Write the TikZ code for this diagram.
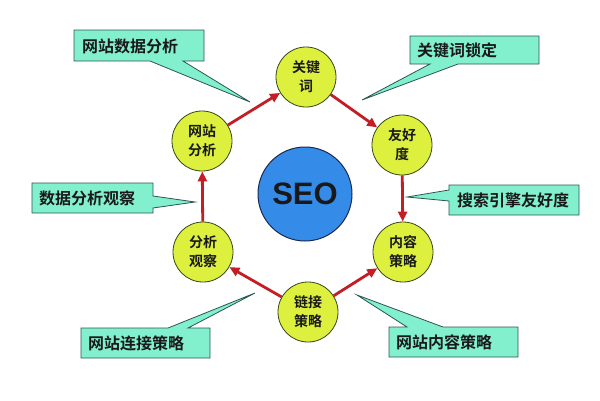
\documentclass[tikz,border=0pt]{standalone}
\usepackage{fontspec}
\setmainfont{Liberation Sans}
\newfontfamily\cjk{Noto Sans CJK SC Bold}
\usetikzlibrary{arrows.meta}
\definecolor{ballfill}{RGB}{221,240,62}
\definecolor{ballline}{RGB}{55,70,25}
\definecolor{seofill}{RGB}{52,140,232}
\definecolor{seoline}{RGB}{25,40,80}
\definecolor{callfill}{RGB}{130,240,205}
\definecolor{callline}{RGB}{45,85,85}
\definecolor{arrowred}{RGB}{195,30,38}
\definecolor{txt}{RGB}{25,25,25}
\tikzset{
  ball/.style={circle,draw=ballline,line width=0.8pt,fill=ballfill,minimum size=60pt,inner sep=0pt,
    align=center,font=\cjk\fontsize{14}{19}\selectfont,text=txt},
  seoball/.style={circle,draw=seoline,line width=1pt,fill=seofill,minimum size=94pt,inner sep=0pt,
    font=\bfseries\fontsize{31}{31}\selectfont,text=txt},
  callshape/.style={draw=callline,line width=0.8pt,fill=callfill,line join=miter},
  calltext/.style={anchor=west,inner sep=0pt,font=\cjk\fontsize{16}{16}\selectfont,text=txt},
  flow/.style={draw=arrowred,line width=2.8pt,-{Triangle[length=10pt,width=9pt]}},
}
\begin{document}
\begin{tikzpicture}[x=1pt,y=-1pt]
\useasboundingbox (0,0) rectangle (600,400);
\fill[white] (0,0) rectangle (600,400);

% callouts
\coordinate (t1) at (250,102);
\coordinate (t2) at (362,100);
\coordinate (t3) at (195,202);
\coordinate (t4) at (407,197);
\coordinate (t5) at (357,295);
\coordinate (t6) at (255,293);
\path[callshape] (74,30) -- (204,30) -- (204,61) -- (183,61) -- (t1) -- (150,61) -- (74,61) -- cycle;
\path[callshape] (410,36) -- (539,36) -- (539,64) -- (458,64) -- (t2) -- (430,64) -- (410,64) -- cycle;
\path[callshape] (32,183) -- (153,183) -- (153,196) -- (t3) -- (153,208) -- (153,213) -- (32,213) -- cycle;
\path[callshape] (449,185) -- (579,185) -- (579,215) -- (449,215) -- (449,201) -- (t4) -- (449,190) -- cycle;
\path[callshape] (389,327) -- (407,327) -- (t5) -- (443,327) -- (518,327) -- (518,357) -- (389,357) -- cycle;
\path[callshape] (81,328) -- (168,328) -- (t6) -- (188,328) -- (210,328) -- (210,358) -- (81,358) -- cycle;
\node[calltext] (c1) at (82,46) {网站数据分析};
\node[calltext] (c2) at (417,50) {关键词锁定};
\node[calltext] (c3) at (39,198) {数据分析观察};
\node[calltext] (c4) at (457,200) {搜索引擎友好度};
\node[calltext] (c5) at (396,342) {网站内容策略};
\node[calltext] (c6) at (88,343) {网站连接策略};

% circles
\node[seoball] (seo) at (305,194) {SEO};
\node[ball] (kw) at (306,77) {关键\\词};
\node[ball] (yh) at (402,145) {友好\\度};
\node[ball] (nr) at (403,252) {内容\\策略};
\node[ball] (lj) at (308,312) {链接\\策略};
\node[ball] (fx) at (203,252) {分析\\观察};
\node[ball] (wz) at (202,141) {网站\\分析};

% arrows
\draw[flow] (wz) -- (kw);
\draw[flow] (kw) -- (yh);
\draw[flow] (yh) -- (nr);
\draw[flow] (lj) -- (nr);
\draw[flow] (lj) -- (fx);
\draw[flow] (fx) -- (wz);
\end{tikzpicture}
\end{document}
